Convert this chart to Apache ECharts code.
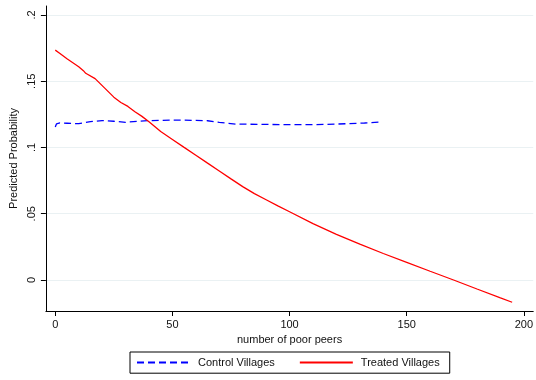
<!DOCTYPE html>
<html>
<head>
<meta charset="utf-8">
<script src="https://cdn.jsdelivr.net/npm/echarts@6/dist/echarts.min.js"></script>
<style>
html, body { margin: 0; padding: 0; background: #fff; }
#chart { width: 536px; height: 380px; }
</style>
</head>
<body>
<div id="chart"></div>
<script>
// tick values
var xTicks = [0, 50, 100, 150, 200];
var yTicks = [0, 0.05, 0.1, 0.15, 0.2];

// Control Villages (dashed blue)
var controlX = [0, 0.5, 2, 5, 10, 15, 20, 25, 30, 35, 40, 50, 60, 65, 70, 77, 90, 104, 115, 125, 132, 139];
var controlY = [0.1155, 0.1178, 0.1185, 0.1183, 0.118, 0.1195, 0.1203, 0.1198, 0.119, 0.1198, 0.1203, 0.1207, 0.1205, 0.1202, 0.119, 0.1177, 0.1174, 0.1172, 0.1174, 0.118, 0.1185, 0.1192];

// Treated Villages (solid red)
var treatedX = [0, 2, 5, 10, 12, 13, 17, 21, 25, 28, 31, 34, 37, 40, 45, 50, 55, 60, 65, 70, 75, 80, 85, 90, 95, 100, 110, 120, 130, 140, 150, 160, 170, 180, 190, 195];
var treatedY = [0.1735, 0.171, 0.167, 0.161, 0.158, 0.156, 0.152, 0.145, 0.138, 0.134, 0.131, 0.127, 0.1235, 0.1195, 0.1121, 0.1061, 0.1001, 0.0942, 0.0882, 0.0823, 0.0763, 0.0705, 0.0652, 0.0606, 0.056, 0.0515, 0.0425, 0.0345, 0.027, 0.020, 0.0133, 0.0066, 0, -0.0068, -0.0135, -0.0168];

function pairs(xs, ys) {
	return xs.map(function(x, i) { return [x, ys[i]]; });
}

var font = 'Liberation Sans, Arial, sans-serif';
var chart = echarts.init(document.getElementById('chart'), null, {renderer: 'canvas'});

chart.setOption({
	animation: false,
	backgroundColor: '#fff',
	grid: {left: 44, top: 6, right: 0, bottom: 69, containLabel: false},
	legend: {
		left: 130,
		top: 352,
		selectedMode: false,
		borderColor: '#000',
		borderWidth: 1,
		borderRadius: 0,
		padding: [5, 10, 5, 6],
		itemWidth: 53,
		itemHeight: 14,
		itemGap: 24,
		itemStyle: {opacity: 0}, // hide the circle marker, keep the line
		textStyle: {fontFamily: font, fontSize: 11, color: '#111', padding: [0, 0, 0, 3]},
		data: ['Control Villages', 'Treated Villages']
	},
	xAxis: {
		type: 'value',
		min: -4,
		max: 204,
		name: 'number of poor peers',
		nameLocation: 'middle',
		nameGap: 21,
		nameTextStyle: {fontFamily: font, fontSize: 11, color: '#111'},
		axisLine: {show: true, onZero: false, lineStyle: {color: '#000', width: 1}},
		axisTick: {show: true, length: 5, customValues: xTicks, lineStyle: {color: '#000'}},
		axisLabel: {customValues: xTicks, margin: 8, fontFamily: font, fontSize: 11, color: '#111'},
		splitLine: {show: false}
	},
	yAxis: {
		type: 'value',
		min: -0.0234,
		max: 0.2068,
		name: 'Predicted Probability',
		nameLocation: 'middle',
		nameGap: 23,
		nameRotate: 90,
		nameTextStyle: {fontFamily: font, fontSize: 11, color: '#111'},
		axisLine: {show: true, onZero: false, lineStyle: {color: '#000', width: 1}},
		axisTick: {show: true, length: 5, customValues: yTicks, lineStyle: {color: '#000'}},
		axisLabel: {
			customValues: yTicks,
			rotate: 90,
			margin: 8,
			fontFamily: font,
			fontSize: 11,
			color: '#111',
			formatter: function(v) { return String(+v.toFixed(3)).replace(/^0\./, '.'); }
		},
		splitLine: {show: true, lineStyle: {color: '#eaf1f3', width: 1}}
	},
	series: [
		{
			name: 'Control Villages',
			type: 'line',
			symbol: 'none',
			color: '#0000ff',
			lineStyle: {color: '#0000ff', width: 1.3, type: [7, 4]},
			data: pairs(controlX, controlY)
		},
		{
			name: 'Treated Villages',
			type: 'line',
			symbol: 'none',
			color: '#ff0000',
			lineStyle: {color: '#ff0000', width: 1.3},
			data: pairs(treatedX, treatedY)
		}
	]
});
</script>
</body>
</html>
